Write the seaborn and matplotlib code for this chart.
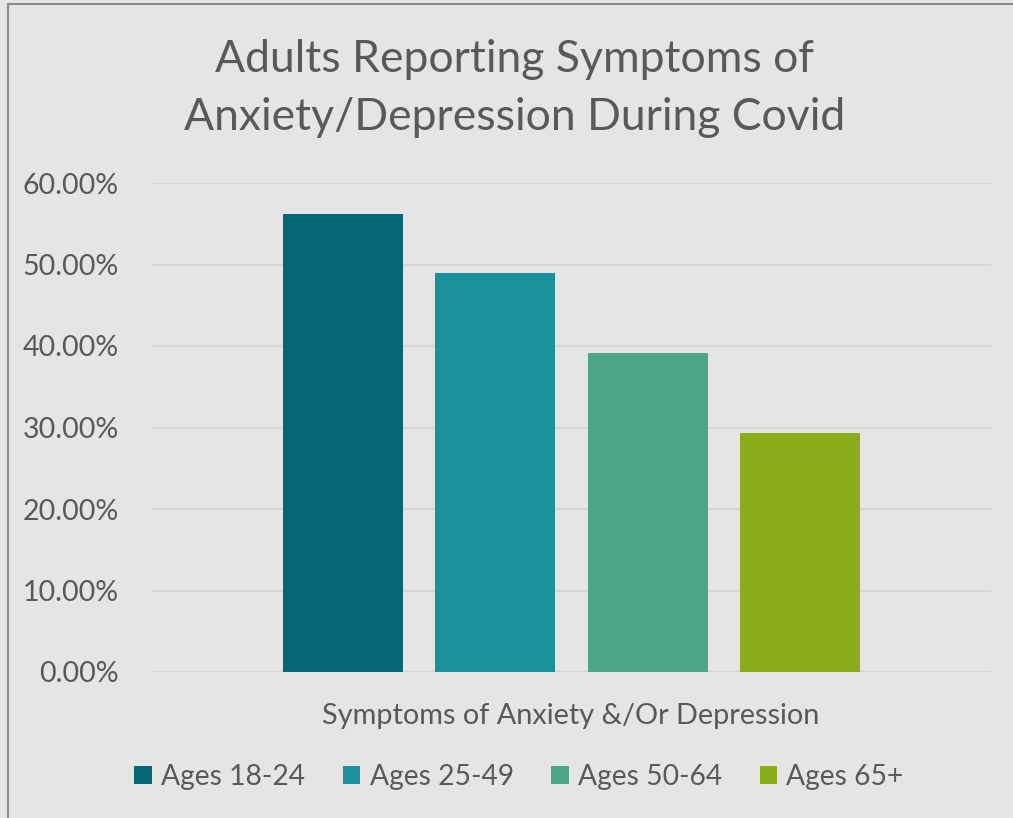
import matplotlib
matplotlib.use("Agg")
import matplotlib.pyplot as plt
from matplotlib.patches import Rectangle
from matplotlib.ticker import PercentFormatter
import seaborn as sns
import pandas as pd

category = ["Symptoms of Anxiety &/Or Depression"]
series = ["Ages 18-24", "Ages 25-49", "Ages 50-64", "Ages 65+"]
values = [56.2, 48.9, 39.1, 29.3]
colors = ["#036874", "#1B919E", "#4DA686", "#8BAC19"]
yticks = [0, 10, 20, 30, 40, 50, 60]
title_lines = ["Adults Reporting Symptoms of", "Anxiety/Depression During Covid"]

df = pd.DataFrame({"cat": category * len(series), "series": series, "value": values})

sns.set_theme(style="white")
plt.rcParams["font.family"] = ["Lato", "DejaVu Sans"]
bg = "#E5E5E5"
text_c = "#595959"
grid_c = "#D6D6D6"

fig = plt.figure(figsize=(10.13, 8.18), dpi=100, facecolor=bg)
W, H = 1013, 818
ax = fig.add_axes([152 / W, 1 - 672 / H, (991 - 152) / W, (672 - 183) / H])
ax.set_facecolor(bg)

sns.barplot(data=df, x="cat", y="value", hue="series", palette=colors,
            width=0.727, gap=0.213, ax=ax, legend=True, saturation=1,
            linewidth=0, edgecolor="none")

ax.set_xlim(-0.5, 0.5)
ax.set_ylim(0, 60)
ax.set_yticks(yticks)
ax.yaxis.set_major_formatter(PercentFormatter(decimals=2))
ax.yaxis.grid(True, color=grid_c, linewidth=1.6)
ax.set_axisbelow(True)
for s in ax.spines.values():
    s.set_visible(False)
ax.tick_params(axis="y", length=0, pad=24, labelsize=20.5, labelcolor=text_c)
ax.tick_params(axis="x", length=0, pad=0)
ax.set_xticklabels([])
ax.set_xlabel("")
ax.set_ylabel("")

fig.text(571 / W, 1 - 724 / H, category[0], ha="center", va="baseline",
         fontsize=20.8, color=text_c)
fig.text(514.5 / W, 1 - 72 / H, title_lines[0], ha="center", va="baseline",
         fontsize=32, color=text_c)
fig.text(514.5 / W, 1 - 130 / H, title_lines[1], ha="center", va="baseline",
         fontsize=32, color=text_c)

handles, labels = ax.get_legend_handles_labels()
ax.get_legend().remove()
fig.legend(handles, labels, loc="center", bbox_to_anchor=(519 / W, 1 - 777 / H),
           ncol=4, frameon=False, fontsize=20.3, labelcolor=text_c,
           handlelength=0.63, handleheight=0.63, handletextpad=0.32,
           columnspacing=1.33)

fig.patches.append(Rectangle((8 / W, -0.01), 1.02, 1 - 4 / H + 0.01,
                             transform=fig.transFigure, fill=False,
                             edgecolor="#8C8C8C", linewidth=1.5))

fig.savefig("out.png", dpi=100, facecolor=bg)
